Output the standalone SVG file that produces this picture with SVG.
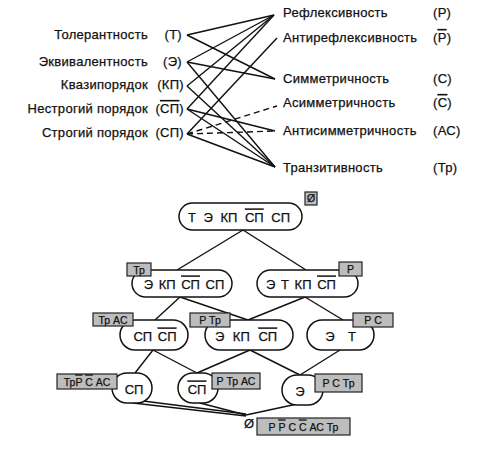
<svg xmlns="http://www.w3.org/2000/svg" width="485" height="454" viewBox="0 0 485 454">
<style>
text{font-family:"Liberation Sans",Arial,sans-serif;fill:#111;stroke:#111;stroke-width:0.25}
.lbl{font-size:13px;letter-spacing:0.3px}
.nt{font-size:13px;text-anchor:middle;word-spacing:2px}
.tg{font-size:10.5px;text-anchor:middle}
.ol{text-decoration:overline}
.pill{fill:#fff;stroke:#111;stroke-width:1.5}
.tag{fill:#bdbdbd;stroke:#222;stroke-width:1.2}
.c line{stroke:#111;stroke-width:1.4}
.c .d{stroke-dasharray:6 4}
</style>
<rect width="485" height="454" fill="#fff"/>
<g id="left-labels" class="lbl">
<g id="T"><text x="148" y="39" text-anchor="end">Толерантность</text><text x="182" y="39" text-anchor="end">(Т)</text></g>
<g id="E"><text x="148" y="66" text-anchor="end">Эквивалентность</text><text x="182" y="66" text-anchor="end">(Э)</text></g>
<g id="KP"><text x="148" y="89" text-anchor="end">Квазипорядок</text><text x="184" y="89" text-anchor="end">(КП)</text></g>
<g id="NSP"><text x="148" y="113" text-anchor="end">Нестрогий порядок</text><text x="184" y="113" text-anchor="end">(<tspan class="ol">СП</tspan>)</text></g>
<g id="SP"><text x="148" y="137" text-anchor="end">Строгий порядок</text><text x="184" y="137" text-anchor="end">(СП)</text></g>
</g>
<g id="right-labels" class="lbl">
<g id="R"><text x="283" y="17">Рефлексивность</text><text x="433" y="17">(Р)</text></g>
<g id="AR"><text x="283" y="42">Антирефлексивность</text><text x="433" y="42">(<tspan class="ol">Р</tspan>)</text></g>
<g id="S"><text x="283" y="83">Симметричность</text><text x="433" y="83">(С)</text></g>
<g id="AS"><text x="283" y="107">Асимметричность</text><text x="433" y="107">(<tspan class="ol">С</tspan>)</text></g>
<g id="ANS"><text x="283" y="135">Антисимметричность</text><text x="433" y="135">(АС)</text></g>
<g id="TR"><text x="283" y="172">Транзитивность</text><text x="433" y="172">(Тр)</text></g>
</g>
<g id="connectors" class="c">
<line x1="187" y1="35" x2="274" y2="15"/>
<line x1="187" y1="35" x2="275" y2="79"/>
<line x1="187" y1="62" x2="274" y2="15"/>
<line x1="187" y1="62" x2="275" y2="79"/>
<line x1="187" y1="62" x2="275" y2="167"/>
<line x1="187" y1="86" x2="274" y2="15"/>
<line x1="187" y1="86" x2="275" y2="167"/>
<line x1="187" y1="109" x2="274" y2="15"/>
<line x1="187" y1="109" x2="275" y2="131"/>
<line x1="187" y1="109" x2="275" y2="167"/>
<line x1="187" y1="134" x2="277" y2="38"/>
<line class="d" x1="187" y1="134" x2="277" y2="106"/>
<line class="d" x1="187" y1="134" x2="275" y2="131"/>
<line x1="187" y1="134" x2="275" y2="167"/>
<line x1="243" y1="230" x2="177" y2="270"/>
<line x1="243" y1="230" x2="306" y2="270"/>
<line x1="180" y1="297" x2="155" y2="320"/>
<line x1="180" y1="297" x2="248" y2="320"/>
<line x1="305" y1="297" x2="248" y2="320"/>
<line x1="305" y1="297" x2="343" y2="320"/>
<line x1="153" y1="350" x2="135" y2="373"/>
<line x1="153" y1="350" x2="197" y2="373"/>
<line x1="250" y1="350" x2="197" y2="373"/>
<line x1="250" y1="350" x2="300" y2="375"/>
<line x1="340" y1="350" x2="300" y2="375"/>
<line x1="133" y1="403" x2="246" y2="416"/>
<line x1="143" y1="401" x2="246" y2="414"/>
<line x1="200" y1="403" x2="246" y2="415"/>
<line x1="297" y1="404" x2="246" y2="415"/>
</g>
<g id="n-top"><rect class="pill" x="179" y="203" width="123" height="27" rx="13.5"/><text class="nt" x="239" y="221.5" style="word-spacing:4px">Т Э КП <tspan class="ol">СП</tspan> СП</text><rect class="tag" x="305" y="192" width="12" height="13"/><text class="tg" x="311" y="202">Ø</text></g>
<g id="n-l2a"><rect class="pill" x="132" y="270" width="100" height="27" rx="13.5"/><text class="nt" x="184" y="288.5">Э КП <tspan class="ol">СП</tspan> СП</text><rect class="tag" x="127" y="263" width="24" height="13"/><text class="tg" x="139" y="273.5">Тр</text></g>
<g id="n-l2b"><rect class="pill" x="257" y="270" width="101" height="27" rx="13.5"/><text class="nt" x="301" y="288.5">Э Т КП <tspan class="ol">СП</tspan></text><rect class="tag" x="339" y="262" width="23" height="14"/><text class="tg" x="350.5" y="273">Р</text></g>
<g id="n-l3a"><rect class="pill" x="120" y="320" width="68" height="30" rx="15"/><text class="nt" x="155" y="340.5">СП <tspan class="ol">СП</tspan></text><rect class="tag" x="93" y="313" width="40" height="13"/><text class="tg" x="113" y="323.5">Тр АС</text></g>
<g id="n-l3b"><rect class="pill" x="205" y="320" width="88" height="30" rx="15"/><text class="nt" x="246" y="340.5" style="word-spacing:5px">Э КП <tspan class="ol">СП</tspan></text><rect class="tag" x="190" y="313" width="40" height="14"/><text class="tg" x="210" y="324">Р  Тр</text></g>
<g id="n-l3c"><rect class="pill" x="307" y="320" width="67" height="30" rx="15"/><text class="nt" x="330" y="340.5">Э</text><text class="nt" x="352" y="340.5">Т</text><rect class="tag" x="353" y="313" width="40" height="14"/><text class="tg" x="373" y="324">Р  С</text></g>
<g id="n-l4a"><rect class="pill" x="112" y="373" width="40" height="30" rx="15"/><text class="nt" x="134" y="393.5">СП</text><rect class="tag" x="57" y="374" width="60" height="15"/><text class="tg" x="87" y="385.5">Тр<tspan class="ol">Р</tspan> <tspan class="ol">С</tspan>  АС</text></g>
<g id="n-l4b"><rect class="pill" x="178" y="373" width="40" height="30" rx="15"/><text class="nt" x="197" y="393.5"><tspan class="ol">СП</tspan></text><rect class="tag" x="212" y="373" width="48" height="16"/><text class="tg" x="236" y="385">Р Тр АС</text></g>
<g id="n-l4c"><rect class="pill" x="282" y="375" width="41" height="30" rx="15"/><text class="nt" x="300" y="396">Э</text><rect class="tag" x="315" y="374" width="47" height="18"/><text class="tg" x="338.5" y="387">Р С Тр</text></g>
<g id="n-bottom"><text class="nt" x="249" y="428">Ø</text><rect class="tag" x="257" y="418" width="93" height="17"/><text class="tg" x="303.5" y="430.5">Р  <tspan class="ol">Р</tspan>  С  <tspan class="ol">С</tspan>  АС  Тр</text></g>
</svg>
